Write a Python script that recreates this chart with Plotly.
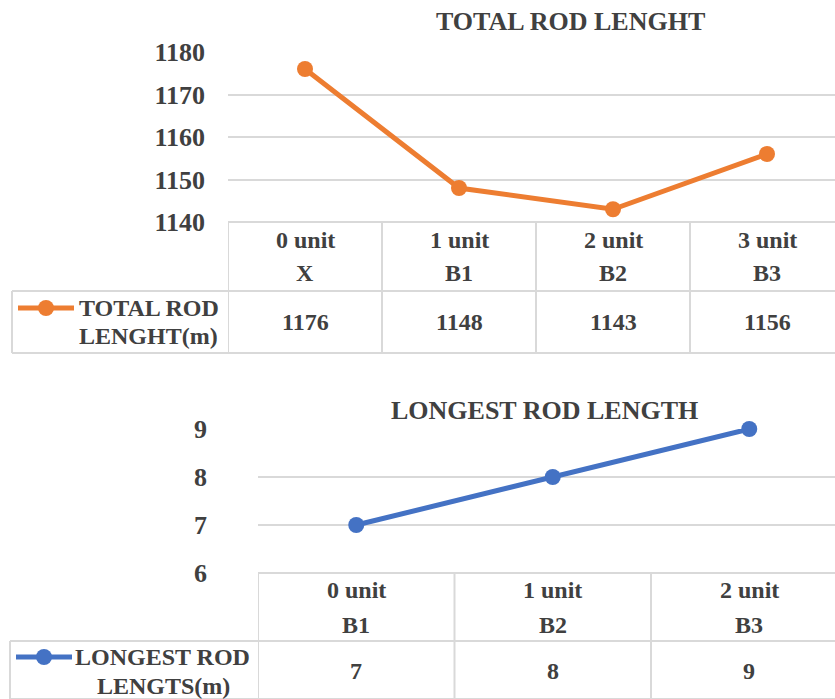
import plotly.graph_objects as go

# ---- data ----
total_units = ["0 unit", "1 unit", "2 unit", "3 unit"]
total_codes = ["X", "B1", "B2", "B3"]
total_len = [1176, 1148, 1143, 1156]
total_ticks = [1140, 1150, 1160, 1170, 1180]
total_title = "TOTAL ROD LENGHT"
total_key = ["TOTAL ROD", "LENGHT(m)"]

longest_units = ["0 unit", "1 unit", "2 unit"]
longest_codes = ["B1", "B2", "B3"]
longest_len = [7, 8, 9]
longest_ticks = [6, 7, 8, 9]
longest_title = "LONGEST ROD LENGTH"
longest_key = ["LONGEST ROD", "LENGTS(m)"]

# ---- styling ----
W, H = 835, 699
FONT = "Liberation Serif"
TXT = "#404040"
GRID = "#D9D9D9"
ORANGE = "#ED7D31"
BLUE = "#4472C4"


def px(x):
    return x / W


def py(y):
    return 1 - y / H


fig = go.Figure()

fig.add_trace(go.Scatter(
    x=list(range(len(total_len))), y=total_len, mode="lines+markers",
    line=dict(color=ORANGE, width=5), marker=dict(color=ORANGE, size=16),
    cliponaxis=False, xaxis="x", yaxis="y", showlegend=False, hoverinfo="skip"))

fig.add_trace(go.Scatter(
    x=list(range(len(longest_len))), y=longest_len, mode="lines+markers",
    line=dict(color=BLUE, width=5), marker=dict(color=BLUE, size=16),
    cliponaxis=False, xaxis="x2", yaxis="y2", showlegend=False, hoverinfo="skip"))

tick_font = dict(family=FONT, size=26, color=TXT, weight="bold")

# plot-area geometry in pixels
top_geo = dict(left=228, col=154, top=52, bottom=222, row1=291, row2=353, key_left=12)
bot_geo = dict(left=258, col=196.5, top=429, bottom=573, row1=641, row2=H, key_left=10)

fig.update_layout(
    template="none",
    width=W, height=H, margin=dict(l=0, r=0, t=0, b=0, autoexpand=False),
    paper_bgcolor="white", plot_bgcolor="white",
    xaxis=dict(domain=[px(top_geo["left"]), 1],
               range=[-0.5, -0.5 + (W - top_geo["left"]) / top_geo["col"]],
               showgrid=False, zeroline=False, showticklabels=False, showline=False,
               ticks="", automargin=False, fixedrange=True),
    yaxis=dict(domain=[py(top_geo["bottom"]), py(top_geo["top"])],
               range=[total_ticks[0], total_ticks[-1]], tickvals=total_ticks,
               showgrid=True, gridcolor=GRID, gridwidth=1.5, zeroline=False,
               showline=False, ticks="", automargin=False,
               tickfont=tick_font, ticklabelstandoff=22, fixedrange=True),
    xaxis2=dict(domain=[px(bot_geo["left"]), 1],
                range=[-0.5, -0.5 + (W - bot_geo["left"]) / bot_geo["col"]],
                showgrid=False, zeroline=False, showticklabels=False, showline=False,
                ticks="", automargin=False, fixedrange=True),
    yaxis2=dict(domain=[py(bot_geo["bottom"]), py(bot_geo["top"])],
                range=[longest_ticks[0], longest_ticks[-1]], tickvals=longest_ticks,
                showgrid=True, gridcolor=GRID, gridwidth=1.5, zeroline=False,
                showline=False, ticks="", automargin=False,
                tickfont=tick_font, ticklabelstandoff=20, fixedrange=True),
)

shapes = []
annotations = []
cell_font = dict(family=FONT, size=24, color=TXT, weight="bold")


def label(xref, x, y, text, font):
    annotations.append(dict(xref=xref, yref="paper", x=x, y=y, text=text,
                            xanchor="center", yanchor="middle",
                            showarrow=False, font=font))


def hline(x0, x1, y, xref="paper"):
    shapes.append(dict(type="line", xref=xref, yref="paper", x0=x0, x1=x1,
                       y0=py(y), y1=py(y), line=dict(color=GRID, width=2), layer="below"))


def vline(x, y0, y1, xref="paper"):
    shapes.append(dict(type="line", xref=xref, yref="paper", x0=x, x1=x,
                       y0=py(y0), y1=py(y1), line=dict(color=GRID, width=2), layer="below"))


def data_table(xref, geo, units, codes, values, key, key_x, color, hdr_y, val_y, key_y):
    n = len(values)
    # borders
    hline(px(geo["left"]), 1, geo["bottom"])
    hline(px(geo["key_left"]), 1, geo["row1"])
    hline(px(geo["key_left"]), 1, geo["row2"])
    for k in range(n):
        vline(k - 0.5, geo["bottom"], geo["row2"], xref=xref)
    vline(px(geo["key_left"]), geo["row1"], geo["row2"])
    # header and value cells
    for k in range(n):
        label(xref, k, py(hdr_y[0]), units[k], cell_font)
        label(xref, k, py(hdr_y[1]), codes[k], cell_font)
        label(xref, k, py(val_y), str(values[k]), cell_font)
    # legend key: line with a marker, then the series name
    kx0 = geo["key_left"] + 6
    shapes.append(dict(type="line", xref="paper", yref="paper",
                       x0=px(kx0), x1=px(kx0 + 56), y0=py(key_y[0]), y1=py(key_y[0]),
                       line=dict(color=color, width=5)))
    cx, r = kx0 + 28, 8
    shapes.append(dict(type="circle", xref="paper", yref="paper",
                       x0=px(cx - r), x1=px(cx + r), y0=py(key_y[0] + r), y1=py(key_y[0] - r),
                       fillcolor=color, line=dict(width=0)))
    for line_txt, yy, xc in zip(key, key_y, key_x):
        label("paper", px(xc), py(yy), line_txt, cell_font)


data_table("x", top_geo, total_units, total_codes, total_len, total_key, (149, 148), ORANGE,
           hdr_y=(240, 273), val_y=322, key_y=(308, 336))
data_table("x2", bot_geo, longest_units, longest_codes, longest_len, longest_key, (162, 163), BLUE,
           hdr_y=(590, 625), val_y=671, key_y=(657, 686))

title_font = dict(family=FONT, size=26, color=TXT, weight="bold")
label("paper", px(570), py(21), total_title, title_font)
label("paper", px(544), py(410), longest_title, title_font)

fig.update_layout(shapes=shapes, annotations=annotations)

fig.write_html("out.html")
